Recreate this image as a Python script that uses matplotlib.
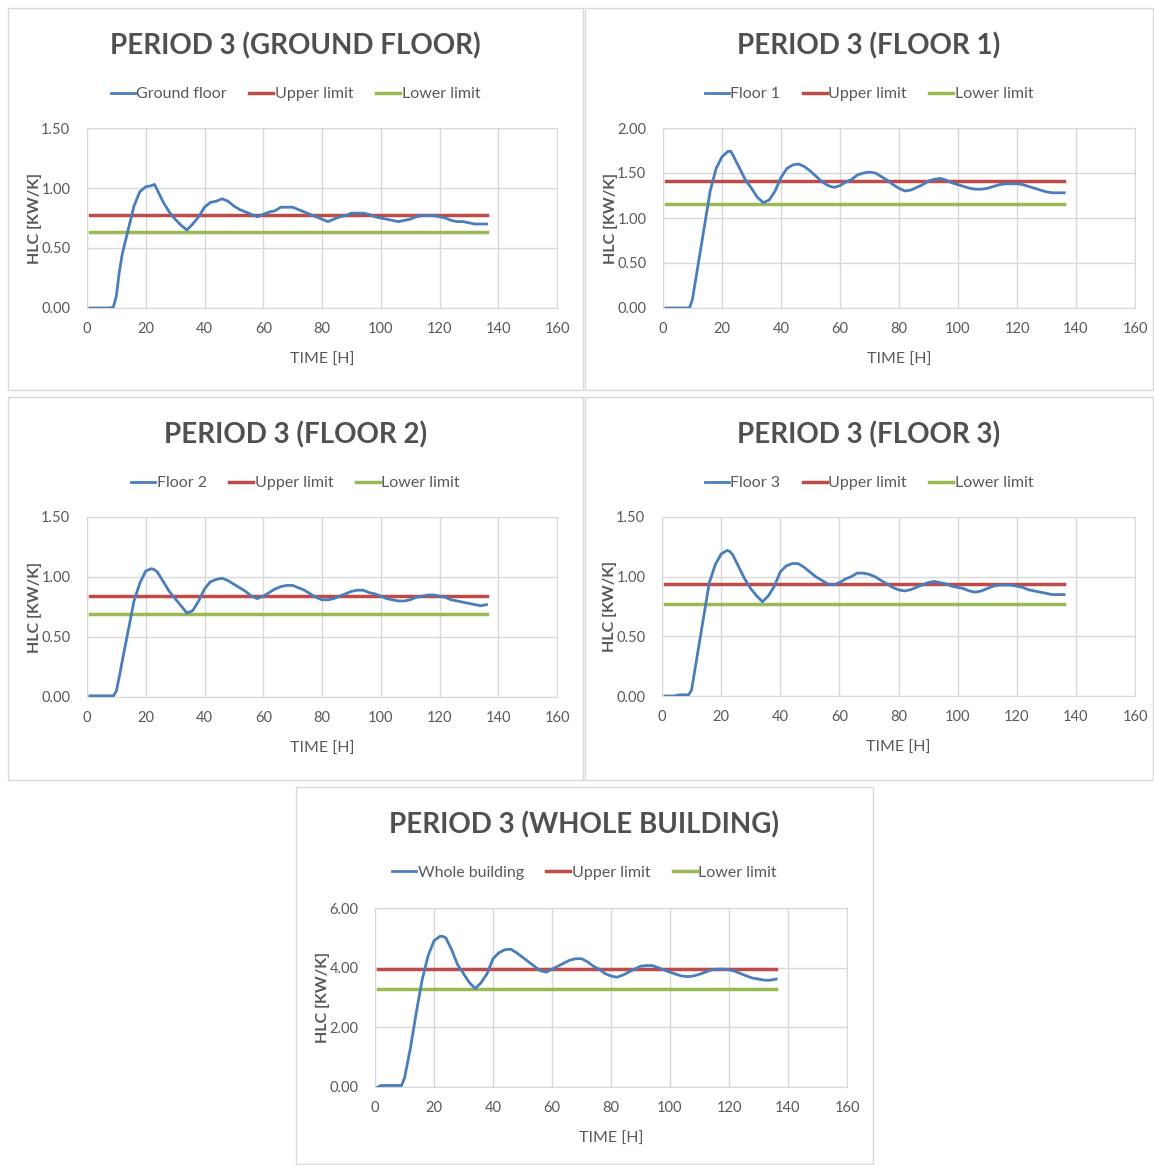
import matplotlib
matplotlib.use("Agg")
import matplotlib.pyplot as plt
from matplotlib.patches import Rectangle
from matplotlib.ticker import FormatStrFormatter

plt.rcParams['font.family'] = ['Lato', 'DejaVu Sans']

W, H = 1154, 1165

# time axis (hours)
hours = [1, 2, 4, 6, 8, 9, 10, 11, 12, 14, 16, 18, 20, 22, 23, 24, 26, 28, 30, 32, 34, 36, 38,
         40, 42, 44, 46, 48, 50, 52, 54, 56, 58, 60, 62, 64, 66, 68, 70, 72, 74, 76, 78,
         80, 82, 84, 86, 88, 90, 92, 94, 96, 98, 100, 102, 104, 106, 108, 110, 112, 114,
         116, 118, 120, 122, 124, 126, 128, 130, 132, 134, 136]

ground = [0, 0, 0, 0, 0, 0.01, 0.10, 0.30, 0.45, 0.65, 0.85, 0.97, 1.01, 1.02, 1.03, 0.98,
          0.88, 0.80, 0.74, 0.69, 0.65, 0.70, 0.76, 0.84, 0.88, 0.89, 0.91, 0.89, 0.85, 0.82,
          0.80, 0.78, 0.76, 0.78, 0.80, 0.81, 0.84, 0.84, 0.84, 0.82, 0.80, 0.78, 0.76, 0.74,
          0.72, 0.74, 0.76, 0.77, 0.79, 0.79, 0.79, 0.78, 0.76, 0.75, 0.74, 0.73, 0.72, 0.73,
          0.74, 0.76, 0.77, 0.77, 0.77, 0.76, 0.75, 0.73, 0.72, 0.72, 0.71, 0.70, 0.70, 0.70]

floor1 = [0, 0, 0, 0, 0, 0, 0.10, 0.30, 0.50, 0.90, 1.30, 1.55, 1.68, 1.74, 1.74, 1.68,
          1.55, 1.42, 1.33, 1.23, 1.17, 1.20, 1.30, 1.45, 1.55, 1.59, 1.60, 1.57, 1.52, 1.46,
          1.40, 1.36, 1.34, 1.36, 1.40, 1.43, 1.48, 1.50, 1.51, 1.50, 1.46, 1.42, 1.37, 1.33,
          1.30, 1.31, 1.34, 1.37, 1.41, 1.43, 1.44, 1.42, 1.39, 1.37, 1.35, 1.33, 1.32, 1.32,
          1.33, 1.35, 1.37, 1.38, 1.38, 1.38, 1.37, 1.35, 1.33, 1.31, 1.29, 1.28, 1.28, 1.28]

floor2 = [0.01, 0.01, 0.01, 0.01, 0.01, 0.01, 0.05, 0.17, 0.30, 0.55, 0.80, 0.95, 1.05, 1.07,
          1.06, 1.04, 0.96, 0.88, 0.82, 0.76, 0.70, 0.72, 0.80, 0.90, 0.96, 0.98, 0.99, 0.97,
          0.94, 0.91, 0.88, 0.84, 0.82, 0.84, 0.87, 0.90, 0.92, 0.93, 0.93, 0.91, 0.89, 0.86,
          0.83, 0.81, 0.81, 0.82, 0.84, 0.86, 0.88, 0.89, 0.89, 0.87, 0.86, 0.84, 0.82, 0.81,
          0.80, 0.80, 0.81, 0.83, 0.84, 0.85, 0.85, 0.84, 0.83, 0.81, 0.80, 0.79, 0.78, 0.77,
          0.76, 0.77]

floor3 = [0, 0, 0, 0.01, 0.01, 0.01, 0.05, 0.20, 0.35, 0.65, 0.95, 1.10, 1.19, 1.22, 1.21,
          1.18, 1.08, 0.98, 0.90, 0.84, 0.79, 0.84, 0.92, 1.04, 1.09, 1.11, 1.11, 1.08, 1.04,
          1.00, 0.97, 0.94, 0.93, 0.95, 0.98, 1.00, 1.03, 1.03, 1.02, 1.00, 0.97, 0.94, 0.91,
          0.89, 0.88, 0.89, 0.91, 0.93, 0.95, 0.96, 0.95, 0.94, 0.92, 0.91, 0.90, 0.88, 0.87,
          0.88, 0.90, 0.92, 0.93, 0.93, 0.93, 0.92, 0.91, 0.89, 0.88, 0.87, 0.86, 0.85, 0.85,
          0.85]

whole = [0, 0.05, 0.05, 0.05, 0.05, 0.05, 0.30, 0.80, 1.30, 2.50, 3.60, 4.40, 4.90, 5.05,
         5.05, 5.00, 4.60, 4.10, 3.80, 3.50, 3.30, 3.50, 3.80, 4.30, 4.50, 4.60, 4.62, 4.50,
         4.35, 4.20, 4.05, 3.90, 3.85, 3.95, 4.05, 4.15, 4.25, 4.30, 4.30, 4.20, 4.05, 3.95,
         3.80, 3.72, 3.68, 3.75, 3.85, 3.95, 4.05, 4.07, 4.07, 4.00, 3.92, 3.85, 3.78, 3.72,
         3.70, 3.72, 3.78, 3.85, 3.92, 3.95, 3.95, 3.93, 3.88, 3.80, 3.72, 3.65, 3.62, 3.58,
         3.58, 3.62]

limit_x = [1, 136]
titles = ["PERIOD 3 (GROUND FLOOR)", "PERIOD 3 (FLOOR 1)", "PERIOD 3 (FLOOR 2)",
          "PERIOD 3 (FLOOR 3)", "PERIOD 3 (WHOLE BUILDING)"]
series_names = ["Ground floor", "Floor 1", "Floor 2", "Floor 3", "Whole building"]
series = [ground, floor1, floor2, floor3, whole]
upper = [0.775, 1.41, 0.845, 0.94, 3.97]
lower = [0.635, 1.15, 0.695, 0.775, 3.27]
ymax = [1.5, 2.0, 1.5, 1.5, 6.0]
ystep = [0.5, 0.5, 0.5, 0.5, 2.0]

# panel boxes (px): left, top, right, bottom ; plot areas (px)
panels = [(8, 8, 583, 390), (585, 8, 1153, 390), (8, 397, 583, 780),
          (585, 397, 1153, 780), (296, 787, 873, 1164)]
plots = [(87, 128, 557, 308), (663, 128, 1135, 308), (87, 517, 557, 697),
         (662, 517, 1135, 696), (375, 908, 847, 1087)]

BLUE = "#4a7ebb"
RED = "#be4b48"
GREEN = "#98b954"
GRID = "#d9d9d9"
TXT = "#595959"

fig = plt.figure(figsize=(W / 100, H / 100), dpi=100)

for i in range(5):
    pl, pt, pr, pb = panels[i]
    fig.patches.append(Rectangle((pl / W, 1 - pb / H), (pr - pl) / W, (pb - pt) / H,
                                 transform=fig.transFigure, fill=False,
                                 edgecolor=GRID, linewidth=1))
    l, t, r, b = plots[i]
    ax = fig.add_axes([l / W, 1 - b / H, (r - l) / W, (b - t) / H])
    ax.plot(hours, series[i], color=BLUE, lw=2, label=series_names[i], zorder=3)
    ax.plot(limit_x, [upper[i]] * 2, color=RED, lw=2.5, label="Upper limit", zorder=2)
    ax.plot(limit_x, [lower[i]] * 2, color=GREEN, lw=2.5, label="Lower limit", zorder=2)
    ax.set_xlim(0, 160)
    ax.set_ylim(0, ymax[i])
    ax.set_xticks(range(0, 161, 20))
    yt = []
    v = 0.0
    while v <= ymax[i] + 1e-9:
        yt.append(v)
        v += ystep[i]
    ax.set_yticks(yt)
    ax.yaxis.set_major_formatter(FormatStrFormatter('%.2f'))
    ax.grid(True, color=GRID, lw=1)
    ax.set_axisbelow(True)
    for s in ax.spines.values():
        s.set_color(GRID)
    ax.tick_params(length=0, labelsize=10.5, labelcolor=TXT, pad=10)
    ax.tick_params(axis='y', pad=12)

    cx = (pl + pr) / 2 / W
    fig.text(cx, 1 - (pt + 38) / H, titles[i], ha='center', va='center',
             fontsize=20, fontweight='bold', color="#505050")
    ax.legend(loc='center', bbox_to_anchor=(cx, 1 - (pt + 86) / H),
              bbox_transform=fig.transFigure, ncol=3, frameon=False,
              handlelength=1.5, handletextpad=0.1, columnspacing=1.4,
              fontsize=11.5, labelcolor=TXT)
    fig.text((l + r) / 2 / W, 1 - (b + 52) / H, "TIME [H]", ha='center', va='center',
             fontsize=11.5, color=TXT)
    fig.text((l - 52) / W, 1 - (t + b) / 2 / H, "HLC [KW/K]", ha='center', va='center',
             rotation=90, fontsize=11.5, fontweight='bold', color=TXT)

fig.savefig("out.png", dpi=100)
